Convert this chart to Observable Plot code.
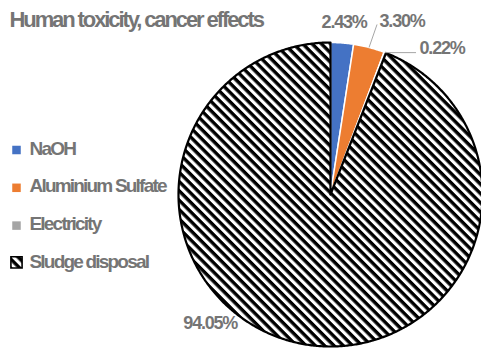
<!DOCTYPE html>
<html><head><meta charset="utf-8">
<script src="https://cdn.jsdelivr.net/npm/d3@7"></script>
<script src="https://cdn.jsdelivr.net/npm/@observablehq/plot@0.6"></script>
<style>
html,body{margin:0;padding:0;background:#fff;}
#chart{width:481px;height:351px;overflow:hidden}
</style></head><body><div id="chart"></div>
<script>
// ---- data ----
const title = "Human toxicity, cancer effects";
const categories = ["NaOH", "Aluminium Sulfate", "Electricity", "Sludge disposal"];
const shares = [2.43, 3.30, 0.22, 94.05];
const valueLabels = ["2.43%", "3.30%", "0.22%", "94.05%"];
const colors = ["#4472C4", "#ED7D31", "#A5A5A5", "url(#hatch)"];

// ---- layout (pixels) ----
const W = 481, H = 351, CX = 330, CY = 194, R = 152;
const textColor = "#757575";
const font = "Liberation Sans, Arial, sans-serif";
const labelOffsets = [[2, -15], [33, -20], [57, 1], [-92, -15]];
const leaderOffsets = [null, [8, -23], [31, 0], null];
const legendX = 29, legendSwatchX = 16, legendY0 = 154, legendDY = 37.8;

// ---- geometry from data ----
const arcs = d3.pie().sort(null).value(d => d)(shares);
const slicePoints = [];
arcs.forEach((a, i) => {
  const n = Math.max(2, Math.ceil((a.endAngle - a.startAngle) * 180 / Math.PI * 2));
  slicePoints.push({k: i, x: 0, y: 0});
  for (let j = 0; j <= n; j++) {
    const t = a.startAngle + (a.endAngle - a.startAngle) * j / n;
    slicePoints.push({k: i, x: Math.sin(t), y: -Math.cos(t)});
  }
  slicePoints.push({k: i, x: 0, y: 0});
});
const mids = arcs.map((a, i) => {
  const t = (a.startAngle + a.endAngle) / 2;
  return {k: i, x: Math.sin(t), y: -Math.cos(t), label: valueLabels[i]};
});

const marks = [];
[0, 1, 2].forEach(i => marks.push(Plot.line(slicePoints.filter(d => d.k === i),
  {x: "x", y: "y", fill: colors[i], stroke: "#fff", strokeWidth: 1.5, curve: "linear"})));
marks.push(Plot.line(slicePoints.filter(d => d.k === 3),
  {x: "x", y: "y", fill: colors[3], stroke: "#000", strokeWidth: 2.2, strokeLinejoin: "round", curve: "linear"}));

// leader lines
mids.forEach((m, i) => {
  const o = leaderOffsets[i];
  if (!o) return;
  marks.push(Plot.link([m], {x1: "x", y1: "y", x2: d => d.x + o[0] / R, y2: d => d.y + o[1] / R,
    stroke: "#a6a6a6", strokeWidth: 1}));
});
// value labels
mids.forEach((m, i) => {
  marks.push(Plot.text([m], {x: "x", y: "y", text: "label", dx: labelOffsets[i][0], dy: labelOffsets[i][1],
    lineAnchor: "bottom", textAnchor: "middle", fontSize: 18, fontWeight: "bold", fill: textColor, fontFamily: font}));
});
// title
marks.push(Plot.text([title], {frameAnchor: "top-left", dx: 9, dy: 26, lineAnchor: "bottom", textAnchor: "start",
  fontSize: 22, fontWeight: "bold", fill: textColor, fontFamily: font}));
// legend
categories.forEach((c, i) => {
  const by = legendY0 + i * legendDY;
  const hatch = i === 3;
  marks.push(Plot.dot([c], {frameAnchor: "top-left", dx: legendSwatchX, dy: by - (hatch ? 5.5 : 4.5), symbol: "square",
    r: hatch ? 6.3 : 4.8, fill: colors[i], stroke: hatch ? "#000" : "none", strokeWidth: hatch ? 1.6 : 0}));
  marks.push(Plot.text([c], {frameAnchor: "top-left", dx: legendX, dy: by, lineAnchor: "bottom", textAnchor: "start",
    fontSize: 19, fontWeight: "bold", fill: textColor, fontFamily: font}));
});

const svg = Plot.plot({
  width: W, height: H, margin: 0,
  x: {type: "linear", domain: [-CX / R, (W - CX) / R], range: [0, W], axis: null},
  y: {type: "linear", domain: [-CY / R, (H - CY) / R], range: [0, H], axis: null},
  style: {background: "#fff", overflow: "hidden"},
  marks
});

// hatch pattern
const sel = d3.select(svg);
const pat = sel.insert("defs", ":first-child").append("pattern")
  .attr("id", "hatch").attr("patternUnits", "userSpaceOnUse")
  .attr("width", 10).attr("height", 6.6).attr("patternTransform", "rotate(45)");
pat.append("rect").attr("width", 10).attr("height", 6.6).attr("fill", "#fff");
pat.append("rect").attr("width", 10).attr("height", 3.4).attr("fill", "#000");

// tight letter spacing like the original
sel.selectAll("g[font-size]").each(function () {
  const fs = +this.getAttribute("font-size");
  const ls = fs >= 22 ? -2.1 : fs >= 19 ? -1.8 : -1.2;
  this.setAttribute("letter-spacing", ls);
});
document.getElementById("chart").appendChild(svg);
</script>
</body></html>
